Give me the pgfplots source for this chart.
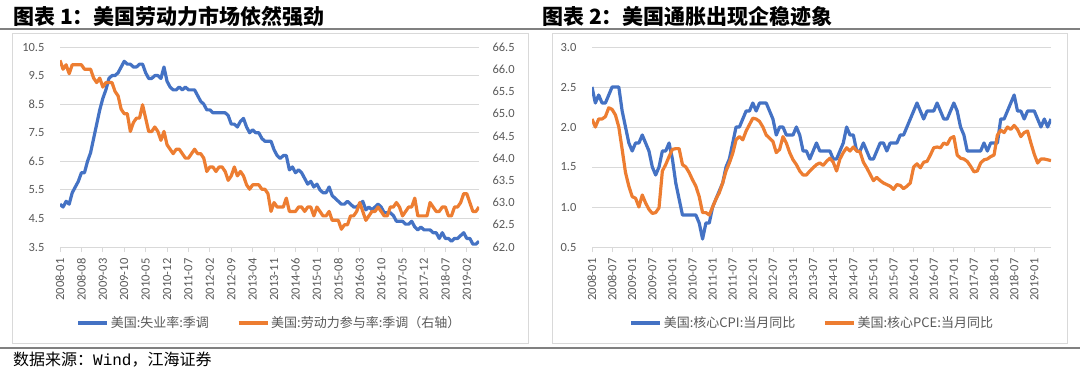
\documentclass[border=0pt]{standalone}
\usepackage{pgfplots}
\pgfplotsset{compat=1.18}
\usepackage{pgfplotstable}
\usepackage{fontspec}
\setmainfont{Carlito}
\newfontfamily\cjk{Noto Sans CJK SC}
\newfontfamily\monof{Liberation Mono}
\definecolor{cblue}{HTML}{4472C4}
\definecolor{corange}{HTML}{ED7D31}
\definecolor{tgray}{HTML}{595959}
\definecolor{ggray}{HTML}{D9D9D9}
\definecolor{lgray}{HTML}{808080}

\pgfplotstableread{
m u l
0 5.0 66.2
1 4.9 66.0
2 5.1 66.1
3 5.0 65.9
4 5.4 66.1
5 5.6 66.1
6 5.8 66.1
7 6.1 66.1
8 6.1 66.0
9 6.5 66.0
10 6.8 66.0
11 7.3 65.8
12 7.8 65.7
13 8.3 65.8
14 8.7 65.6
15 9.0 65.7
16 9.4 65.7
17 9.5 65.7
18 9.5 65.5
19 9.6 65.4
20 9.8 65.1
21 10.0 65.0
22 9.9 65.0
23 9.9 64.6
24 9.8 64.8
25 9.8 64.9
26 9.9 64.9
27 9.9 65.2
28 9.6 64.9
29 9.4 64.6
30 9.4 64.6
31 9.5 64.7
32 9.5 64.6
33 9.4 64.4
34 9.8 64.6
35 9.3 64.3
36 9.1 64.2
37 9.0 64.1
38 9.0 64.2
39 9.1 64.2
40 9.0 64.1
41 9.1 64.0
42 9.0 64.0
43 9.0 64.1
44 9.0 64.2
45 8.8 64.1
46 8.6 64.1
47 8.5 64.0
48 8.3 63.7
49 8.3 63.8
50 8.2 63.8
51 8.2 63.7
52 8.2 63.8
53 8.2 63.8
54 8.2 63.7
55 8.1 63.5
56 7.8 63.6
57 7.8 63.8
58 7.7 63.6
59 7.9 63.7
60 8.0 63.6
61 7.7 63.4
62 7.5 63.3
63 7.6 63.4
64 7.5 63.4
65 7.5 63.4
66 7.3 63.3
67 7.2 63.3
68 7.2 63.2
69 7.2 62.8
70 6.9 63.0
71 6.7 62.9
72 6.6 62.9
73 6.7 62.9
74 6.7 63.1
75 6.2 62.8
76 6.3 62.8
77 6.1 62.8
78 6.2 62.9
79 6.1 62.9
80 5.9 62.8
81 5.7 62.9
82 5.8 62.9
83 5.6 62.7
84 5.7 62.9
85 5.5 62.8
86 5.4 62.7
87 5.4 62.7
88 5.6 62.8
89 5.3 62.6
90 5.2 62.6
91 5.1 62.6
92 5.0 62.4
93 5.0 62.5
94 5.1 62.5
95 5.0 62.7
96 4.9 62.7
97 4.9 62.8
98 5.0 63.0
99 5.1 62.8
100 4.8 62.6
101 4.9 62.7
102 4.8 62.8
103 4.9 62.8
104 5.0 62.9
105 4.9 62.8
106 4.7 62.7
107 4.7 62.7
108 4.7 62.9
109 4.6 62.9
110 4.4 63.0
111 4.4 62.9
112 4.4 62.7
113 4.3 62.8
114 4.3 62.9
115 4.4 62.9
116 4.2 63.1
117 4.1 62.7
118 4.2 62.7
119 4.1 62.7
120 4.1 62.7
121 4.1 63.0
122 4.0 62.9
123 4.0 62.8
124 3.8 62.8
125 4.0 62.9
126 3.8 62.9
127 3.8 62.7
128 3.7 62.7
129 3.8 62.9
130 3.8 62.9
131 3.9 63.0
132 4.0 63.2
133 3.8 63.2
134 3.8 63.0
135 3.6 62.8
136 3.6 62.8
137 3.7 62.9
}\labordata

\pgfplotstableread{
m c p
0 2.5 2.10
1 2.3 2.00
2 2.4 2.10
3 2.3 2.10
4 2.3 2.13
5 2.4 2.24
6 2.5 2.22
7 2.5 2.15
8 2.5 2.00
9 2.2 1.72
10 2.0 1.43
11 1.8 1.26
12 1.7 1.13
13 1.8 1.11
14 1.8 1.00
15 1.9 1.15
16 1.8 1.05
17 1.7 0.97
18 1.5 0.92
19 1.4 0.93
20 1.5 0.99
21 1.7 1.45
22 1.7 1.53
23 1.8 1.63
24 1.6 1.72
25 1.3 1.73
26 1.1 1.73
27 0.9 1.53
28 0.9 1.50
29 0.9 1.43
30 0.9 1.34
31 0.9 1.26
32 0.8 1.13
33 0.6 0.93
34 0.8 0.93
35 0.8 0.90
36 1.0 1.00
37 1.1 1.10
38 1.2 1.18
39 1.3 1.30
40 1.5 1.45
41 1.6 1.55
42 1.8 1.67
43 2.0 1.84
44 2.0 1.88
45 2.1 1.84
46 2.2 1.95
47 2.2 2.03
48 2.3 2.11
49 2.2 2.10
50 2.3 2.07
51 2.3 2.00
52 2.3 1.90
53 2.2 1.86
54 2.1 1.82
55 1.9 1.68
56 2.0 1.72
57 2.0 1.88
58 1.9 1.80
59 1.9 1.68
60 1.9 1.59
61 2.0 1.53
62 1.9 1.45
63 1.7 1.40
64 1.7 1.40
65 1.6 1.45
66 1.7 1.49
67 1.8 1.53
68 1.7 1.55
69 1.7 1.52
70 1.7 1.57
71 1.7 1.61
72 1.6 1.56
73 1.6 1.45
74 1.7 1.60
75 1.8 1.68
76 2.0 1.74
77 1.9 1.70
78 1.9 1.75
79 1.7 1.70
80 1.7 1.69
81 1.8 1.56
82 1.7 1.49
83 1.6 1.41
84 1.6 1.33
85 1.7 1.37
86 1.8 1.33
87 1.8 1.30
88 1.7 1.28
89 1.8 1.26
90 1.8 1.22
91 1.8 1.28
92 1.9 1.27
93 1.9 1.23
94 2.0 1.26
95 2.1 1.30
96 2.2 1.50
97 2.3 1.54
98 2.2 1.49
99 2.1 1.56
100 2.2 1.57
101 2.2 1.65
102 2.2 1.74
103 2.3 1.75
104 2.2 1.74
105 2.1 1.80
106 2.1 1.78
107 2.2 1.86
108 2.3 1.88
109 2.2 1.65
110 2.0 1.61
111 1.9 1.60
112 1.7 1.57
113 1.7 1.51
114 1.7 1.44
115 1.7 1.45
116 1.7 1.55
117 1.8 1.59
118 1.7 1.60
119 1.8 1.63
120 1.8 1.65
121 1.8 1.90
122 2.1 1.96
123 2.1 1.93
124 2.2 2.00
125 2.3 1.97
126 2.4 2.02
127 2.2 1.97
128 2.2 1.88
129 2.1 1.93
130 2.2 1.95
131 2.2 1.80
132 2.2 1.66
133 2.1 1.55
134 2.0 1.60
135 2.1 1.60
136 2.0 1.59
137 2.1 1.58
}\inflationdata

\pgfplotsset{
  base/.style={
    scale only axis, height=200pt, xmin=0, xmax=137,
    anchor=south west,
    x axis line style={draw=ggray, line width=0.8pt},
    y axis line style={draw=none},
    xtick align=outside,
    xtick style={draw=ggray, line width=0.8pt},
    ytick style={draw=none},
    major tick length=5pt,
    tick label style={font=\fontsize{12.5}{12.5}\selectfont, text=tgray},
    xticklabel style={rotate=90, anchor=east, xshift=-3pt},
    yticklabel style={/pgf/number format/fixed, /pgf/number format/fixed zerofill, /pgf/number format/precision=1},
    /pgf/number format/assume math mode=true,
    every axis plot/.append style={line width=3.2pt, line join=round, mark=none},
    legend style={draw=none, fill=none, legend columns=2, anchor=center,
      font=\cjk\fontsize{13}{14}\selectfont, text=tgray,
      /tikz/every even column/.append style={column sep=26pt}},
    legend image code/.code={\draw[#1] (0pt,0pt) -- (29pt,0pt);},
  }
}

\begin{document}
\begin{tikzpicture}[x=1pt,y=1pt]
\useasboundingbox (0,0) rectangle (1080,368);
\fill[white] (0,0) rectangle (1080,368);
% titles and rules
\node[anchor=west, inner sep=0pt] at (13,352) {\cjk\bfseries\fontsize{21}{21}\selectfont 图表 1：美国劳动力市场依然强劲};
\node[anchor=west, inner sep=0pt] at (542,352) {\cjk\bfseries\fontsize{21}{21}\selectfont 图表 2：美国通胀出现企稳迹象};
\draw[lgray, line width=1.2pt] (0,339) -- (1080,339);
\draw[lgray, line width=1.2pt] (0,20) -- (1080,20);
\draw[ggray, line width=1pt] (12,335) rectangle (528,25);
\draw[ggray, line width=1pt] (552,335) rectangle (1067,25);
\node[anchor=west, inner sep=0pt] at (13,8) {\cjk\fontsize{16}{16}\selectfont 数据来源：{\monof Wind}，江海证券};

% chart 1 left axis
\begin{axis}[base, at={(60pt,121pt)}, width=419pt,
  axis x line*=bottom, axis y line*=left,
  ymin=3.5, ymax=10.5, ytick={3.5,4.5,...,10.5},
  ymajorgrids, grid style={draw=ggray, line width=0.8pt},
  yticklabel style={xshift=-12pt},
  xtick={0,7,...,133},
  xticklabels={2008-01,2008-08,2009-03,2009-10,2010-05,2010-12,2011-07,2012-02,2012-09,2013-04,2013-11,2014-06,2015-01,2015-08,2016-03,2016-10,2017-05,2017-12,2018-07,2019-02},
]
\addplot[cblue] table[x=m, y=u] {\labordata};
\end{axis}
% chart 1 right axis
\begin{axis}[base, at={(60pt,121pt)}, width=419pt,
  axis x line=none, axis y line*=right,
  ymin=62, ymax=66.5, ytick={62,62.5,...,66.5},
  yticklabel style={xshift=10pt},
  xtick=\empty,
  legend style={at={(0.5,-0.38)}},
]
\addlegendimage{cblue, line width=3.2pt}
\addlegendentry{美国:失业率:季调}
\addplot[corange] table[x=m, y=l] {\labordata};
\addlegendentry{美国:劳动力参与率:季调（右轴）}
\end{axis}

% chart 2
\begin{axis}[base, at={(592pt,121pt)}, width=459pt,
  axis x line*=bottom, axis y line*=left,
  ymin=0.5, ymax=3.0, ytick={0.5,1.0,...,3.0},
  ymajorgrids, grid style={draw=ggray, line width=0.8pt},
  yticklabel style={xshift=-12pt},
  xtick={0,6,...,132},
  xticklabels={2008-01,2008-07,2009-01,2009-07,2010-01,2010-07,2011-01,2011-07,2012-01,2012-07,2013-01,2013-07,2014-01,2014-07,2015-01,2015-07,2016-01,2016-07,2017-01,2017-07,2018-01,2018-07,2019-01},
  legend style={at={(0.48,-0.38)}},
]
\addplot[cblue] table[x=m, y=c] {\inflationdata};
\addlegendentry{美国:核心CPI:当月同比}
\addplot[corange] table[x=m, y=p] {\inflationdata};
\addlegendentry{美国:核心PCE:当月同比}
\end{axis}
\end{tikzpicture}
\end{document}
